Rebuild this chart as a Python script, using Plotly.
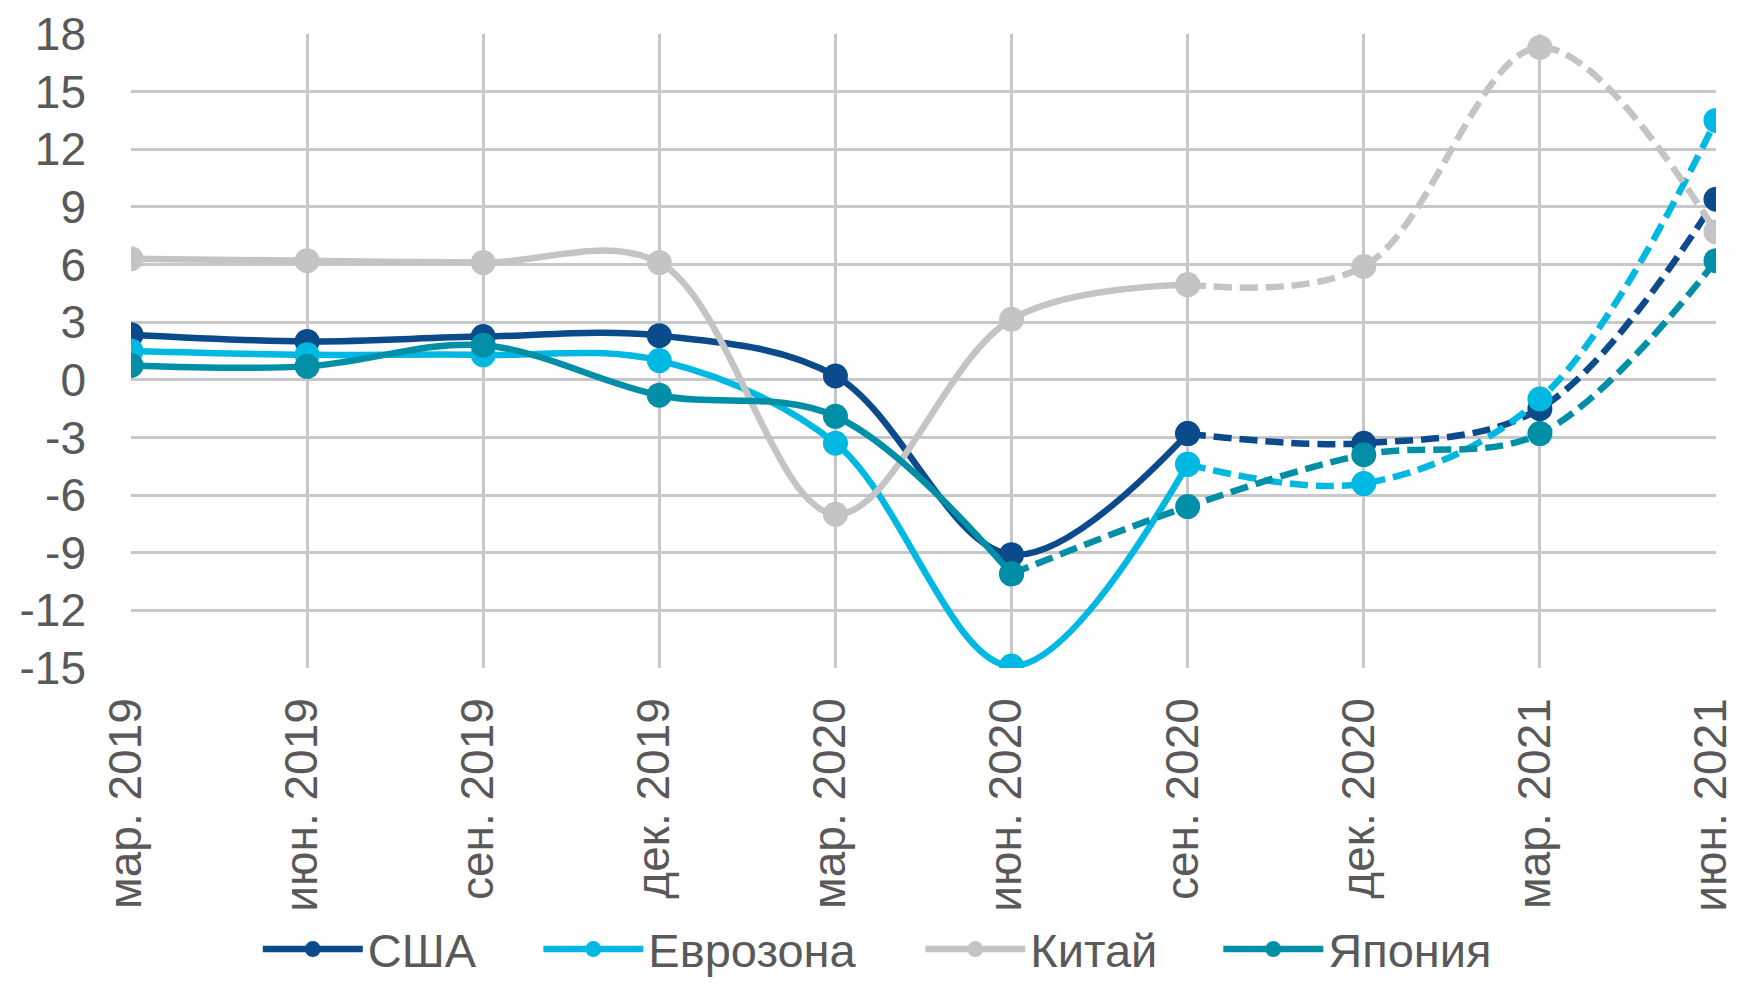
import plotly.graph_objects as go

quarters = ["мар. 2019", "июн. 2019", "сен. 2019", "дек. 2019", "мар. 2020",
            "июн. 2020", "сен. 2020", "дек. 2020", "мар. 2021", "июн. 2021"]

usa = [2.35, 2.0, 2.25, 2.3, 0.2, -9.1, -2.8, -3.3, -1.5, 9.4]
eurozone = [1.5, 1.3, 1.3, 1.0, -3.3, -14.9, -4.4, -5.4, -1.0, 13.5]
china = [6.3, 6.2, 6.1, 6.1, -7.0, 3.15, 4.95, 5.9, 17.3, 7.7]
japan = [0.75, 0.7, 1.8, -0.8, -1.9, -10.1, -6.6, -3.9, -2.8, 6.2]

y_ticks = list(range(-15, 19, 3))

# name, values, colour, index where the dashed part starts, legend id, legend x
series = [
    ("США", usa, "#0b4a8b", 6, "legend", 0.080),
    ("Еврозона", eurozone, "#00b9e2", 6, "legend2", 0.257),
    ("Китай", china, "#c4c4c4", 6, "legend3", 0.498),
    ("Япония", japan, "#008fa6", 5, "legend4", 0.686),
]

fig = go.Figure()

for name, vals, color, split, leg, lx in series:
    fig.add_trace(go.Scatter(
        x=quarters[:split + 1], y=vals[:split + 1],
        name=name, mode="lines+markers",
        line=dict(color=color, width=6.5, shape="spline", smoothing=1),
        marker=dict(size=25, color=color),
        legend=leg,
    ))
    fig.add_trace(go.Scatter(
        x=quarters[split:], y=vals[split:],
        name=name, mode="lines+markers", showlegend=False,
        line=dict(color=color, width=6.5, shape="spline", smoothing=1, dash="18px,8px"),
        marker=dict(size=25, color=color),
        legend=leg,
    ))

fig.update_xaxes(
    type="category",
    categoryorder="array",
    categoryarray=quarters,
    range=[0, len(quarters) - 1],
    tickangle=-90,
    showgrid=True,
    gridcolor="#c8c8c8",
    gridwidth=2.5,
    ticks="",
    tickfont=dict(size=46, color="#595959"),
    ticklabelstandoff=20,
    ticklabelshift=-5,
)

fig.update_yaxes(
    range=[-15, 18],
    tickvals=y_ticks,
    ticktext=[str(v) for v in y_ticks],
    showgrid=True,
    gridcolor="#c8c8c8",
    gridwidth=2.5,
    zeroline=False,
    ticks="",
    tickfont=dict(size=46, color="#595959"),
    ticklabelstandoff=44,
)

legend_style = dict(
    orientation="h",
    xanchor="left",
    yanchor="middle", y=-0.444,
    font=dict(size=47, color="#595959"),
    itemwidth=100,
    bgcolor="rgba(0,0,0,0)",
)

# the page body adds an 8px margin, so the figure is a bit smaller than the window
fig.update_layout(
    width=1731,
    height=969,
    margin=dict(l=123, r=23, t=26, b=309, autoexpand=False),
    plot_bgcolor="white",
    paper_bgcolor="white",
    font=dict(family="Arial, Liberation Sans, sans-serif", color="#595959"),
    legend=dict(legend_style, x=series[0][5]),
    legend2=dict(legend_style, x=series[1][5]),
    legend3=dict(legend_style, x=series[2][5]),
    legend4=dict(legend_style, x=series[3][5]),
)

fig.write_html("out.html")
